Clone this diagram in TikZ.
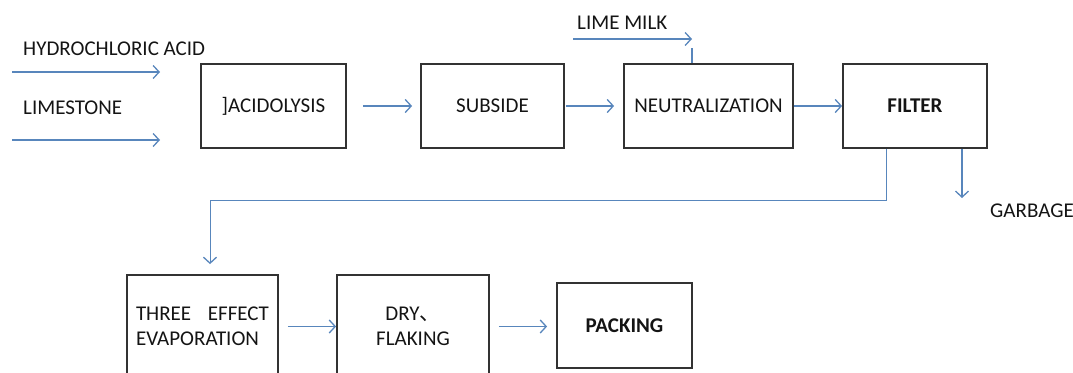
\documentclass[tikz,border=0pt]{standalone}
\usepackage{fontspec}
\setmainfont{Carlito}
\newfontfamily\cjk{Noto Sans CJK SC}
\usetikzlibrary{arrows.meta}
\definecolor{flowblue}{RGB}{88,134,188}
\definecolor{boxgray}{RGB}{50,50,50}
\definecolor{txtgray}{RGB}{20,20,20}
\begin{document}
\begin{tikzpicture}[x=1pt,y=-1pt,
  every node/.style={font=\fontsize{21}{25}\selectfont, text=txtgray},
  procbox/.style={draw=boxgray, line width=1.8pt, inner sep=0pt, align=center},
  flow/.style={draw=flowblue, line width=1.3pt, -{Straight Barb[length=6pt,width=13pt,line width=1.3pt]}},
  flowline/.style={draw=flowblue, line width=1.3pt},
  lbl/.style={anchor=west, inner sep=0pt}]
\useasboundingbox (0,0) rectangle (1073,372);
\clip (0,0) rectangle (1073,372);
% boxes
\node[procbox, minimum width=145pt, minimum height=84pt] (acid) at (273.5,106) {]ACIDOLYSIS};
\node[procbox, minimum width=143pt, minimum height=84pt] (sub) at (492.5,106) {SUBSIDE};
\node[procbox, minimum width=169pt, minimum height=84pt] (neu) at (708.5,106) {NEUTRALIZATION};
\node[procbox, minimum width=144pt, minimum height=84pt] (fil) at (915,106) {\bfseries FILTER};
\node[procbox, minimum width=151pt, minimum height=103pt, text width=133pt, align=left] (evap) at (202.5,326.5) {THREE\hfill EFFECT\\EVAPORATION};
\node[procbox, minimum width=152pt, minimum height=103pt] (dry) at (413,326.5) {DRY{\cjk 、}\\FLAKING};
\node[procbox, minimum width=135pt, minimum height=85pt] (pack) at (624.5,325.5) {\bfseries PACKING};
% labels
\node[lbl] (hcl) at (23,49) {HYDROCHLORIC ACID};
\node[lbl] (lime) at (23,108) {LIMESTONE};
\node[lbl] (milk) at (577,23) {LIME MILK};
\node[lbl] (garb) at (990,211) {GARBAGE};
% free ends
\coordinate (h0) at (12,72); \coordinate (h1) at (160,72);
\coordinate (l0) at (12,140); \coordinate (l1) at (160,140);
\coordinate (m0) at (573,39); \coordinate (m1) at (692,39); \coordinate (m2) at (692,48);
\coordinate (g1) at (962,198);
% connectors
\draw[flow] (h0) -- (h1);
\draw[flow] (l0) -- (l1);
\draw[flow] (m0) -- (m1);
\draw[flowline] (m2) -- (m2 |- neu.north);
\draw[flow] ([xshift=16pt]acid.east) -- ([xshift=-8pt]sub.west);
\draw[flow] ([xshift=1pt]sub.east) -- ([xshift=-9pt]neu.west);
\draw[flow] (neu.east) -- (fil.west);
\draw[flow] (fil.south -| g1) -- (g1);
\draw[flow, line width=1pt] (886,0 |- fil.south) -- (886,200) -- (210,200) -- ([yshift=10pt]evap.north -| 210,0);
\draw[flow] ([xshift=9pt]evap.east) -- (dry.west);
\draw[flow] ([xshift=9pt]dry.east) -- ([xshift=-9pt]pack.west |- dry.east);
\end{tikzpicture}
\end{document}
